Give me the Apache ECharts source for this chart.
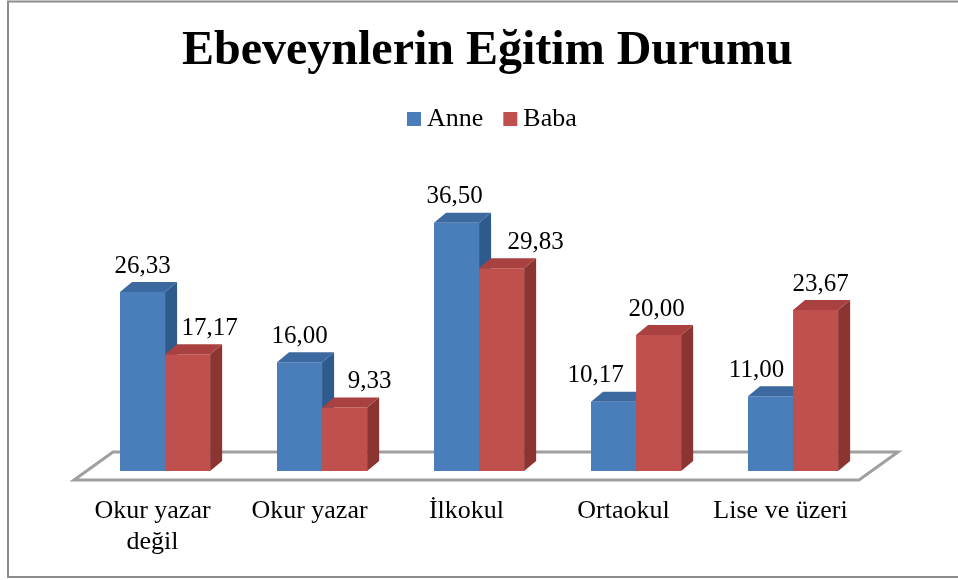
<!DOCTYPE html>
<html>
<head>
<meta charset="utf-8">
<script src="https://cdn.jsdelivr.net/npm/echarts@6/dist/echarts.min.js"></script>
<style>
html,body{margin:0;padding:0;background:#fff;}
#chart{width:958px;height:580px;}
</style>
</head>
<body>
<div id="chart"></div>
<script>
var categories = ['Okur yazar\ndeğil', 'Okur yazar', 'İlkokul', 'Ortaokul', 'Lise ve üzeri'];
var seriesNames = ['Anne', 'Baba'];
var anneValues = [26.33, 16.00, 36.50, 10.17, 11.00];
var babaValues = [17.17, 9.33, 29.83, 20.00, 23.67];
// horizontal nudges of the value labels, as in the reference
var anneLabelShift = [0, 0, -2, -18, -14];
var babaLabelShift = [22, 25, 34, -2, 5];

var FONT = '"Liberation Serif", "Times New Roman", serif';
var palettes = [
  {front: '#4A7EBB', top: '#3C6AA0', side: '#2F5A8C'},
  {front: '#C0504D', top: '#A8413F', side: '#8B3432'}
];

function fmt(v) { return v.toFixed(2).replace('.', ','); }

function makeBarRender(sIdx, shifts) {
  return function (params, api) {
    var i = api.value(0), v = api.value(1);
    var base = api.coord([i, 0]);
    var topP = api.coord([i, v]);
    var bw = api.size([1, 0])[0];
    var barW = bw * 0.287;
    var x0 = base[0] - bw * 0.207 + sIdx * barW;
    var x1 = x0 + barW;
    var yb = base[1], yt = topP[1];
    var dx = barW * 0.267, dy = -10;
    var p = palettes[sIdx];
    return {
      type: 'group',
      children: [
        {type: 'rect', shape: {x: x0, y: yt, width: barW, height: yb - yt},
         style: {fill: p.front}},
        {type: 'polygon', shape: {points: [[x1, yt], [x1 + dx, yt + dy], [x1 + dx, yb + dy], [x1, yb]]},
         style: {fill: p.side}},
        {type: 'polygon', shape: {points: [[x0, yt], [x0 + dx, yt + dy], [x1 + dx, yt + dy], [x1, yt]]},
         style: {fill: p.top}},
        {type: 'text', x: (x0 + x1) / 2 + shifts[i], y: yt + dy - 16,
         style: {text: fmt(v), fill: '#000', font: '25px ' + FONT, align: 'center', verticalAlign: 'middle'}}
      ]
    };
  };
}

function floorRender(params, api) {
  var n = categories.length;
  var bw = api.size([1, 0])[0];
  var first = api.coord([0, 0]);
  var last = api.coord([n - 1, 0]);
  var xl = first[0] - bw / 2, xr = last[0] + bw / 2;
  var yf = first[1] + 9, ddx = 39, ddy = -28;
  return {
    type: 'polygon',
    shape: {points: [[xl, yf], [xl + ddx, yf + ddy], [xr + ddx, yf + ddy], [xr, yf]]},
    style: {fill: '#fff', stroke: '#A0A0A0', lineWidth: 3}
  };
}

var chart = echarts.init(document.getElementById('chart'), null, {renderer: 'canvas'});
chart.setOption({
  animation: false,
  backgroundColor: '#fff',
  title: {
    text: 'Ebeveynlerin Eğitim Durumu',
    left: 182, top: 28, padding: 0,
    textStyle: {fontFamily: FONT, fontSize: 48, fontWeight: 'bold', color: '#000'}
  },
  legend: {
    left: 407, top: 106, padding: 0,
    itemWidth: 14, itemHeight: 14, itemGap: 20,
    icon: 'rect',
    data: [
      {name: seriesNames[0], itemStyle: {color: palettes[0].front}},
      {name: seriesNames[1], itemStyle: {color: palettes[1].front}}
    ],
    textStyle: {fontFamily: FONT, fontSize: 26, color: '#000', padding: [0, 0, 0, 1]}
  },
  graphic: [{
    type: 'rect', silent: true, z: 100,
    shape: {x: 8, y: 1.5, width: 1000, height: 575.5},
    style: {fill: 'none', stroke: '#8C8C8C', lineWidth: 2}
  }],
  grid: {left: 74, right: 99, top: 199, bottom: 109},
  xAxis: {
    type: 'category', data: categories,
    axisLine: {show: false}, axisTick: {show: false}, splitLine: {show: false},
    axisLabel: {margin: 25, fontFamily: FONT, fontSize: 26, lineHeight: 31, color: '#000', interval: 0}
  },
  yAxis: {
    type: 'value', min: 0, max: 40, show: false, splitLine: {show: false}
  },
  series: [
    {type: 'custom', name: 'floor', renderItem: floorRender, data: [[0, 0]], z: 1, silent: true},
    {type: 'custom', name: seriesNames[0], renderItem: makeBarRender(0, anneLabelShift),
     data: anneValues.map(function (v, i) { return [i, v]; }), z: 2,
     itemStyle: {color: palettes[0].front}},
    {type: 'custom', name: seriesNames[1], renderItem: makeBarRender(1, babaLabelShift),
     data: babaValues.map(function (v, i) { return [i, v]; }), z: 3,
     itemStyle: {color: palettes[1].front}}
  ]
});
</script>
</body>
</html>
